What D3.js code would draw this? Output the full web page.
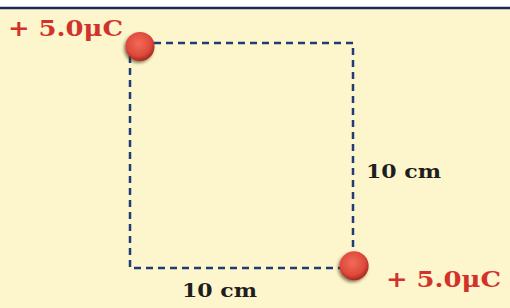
<!DOCTYPE html>
<html>
<head>
<meta charset="utf-8">
<script src="https://cdn.jsdelivr.net/npm/d3@7"></script>
<style>
  html, body { margin: 0; padding: 0; background: #fff; }
  svg { display: block; }
</style>
</head>
<body>
<svg id="chart"></svg>
<script>
const width = 510, height = 308;

// square side in cm and its corners
const sideCm = 10;
const squareCorners = [[0, 10], [10, 10], [10, 0], [0, 0]];

// charges: position in cm and label
const chargePos = [[0.45, 9.85], [10.05, 0.1]];
const chargeLabels = ['+ 5.0μC', '+ 5.0μC'];

// side labels
const sideLabels = ['10 cm', '10 cm'];

const svg = d3.select('#chart')
  .attr('width', width)
  .attr('height', height);

const x = d3.scaleLinear().domain([0, sideCm]).range([130, 353]);
const y = d3.scaleLinear().domain([0, sideCm]).range([268, 43]);

// background
svg.append('rect')
  .attr('width', width).attr('height', height)
  .attr('fill', '#fff');
svg.append('rect')
  .attr('y', 8).attr('width', width).attr('height', height - 8)
  .attr('fill', '#fdf5cb');
svg.append('line')
  .attr('x1', 0).attr('x2', width)
  .attr('y1', 8).attr('y2', 8)
  .attr('stroke', '#1c2a5a').attr('stroke-width', 2.5);

const defs = svg.append('defs');
const grad = defs.append('radialGradient')
  .attr('id', 'ball')
  .attr('cx', '45%').attr('cy', '40%').attr('r', '60%');
grad.append('stop').attr('offset', '0%').attr('stop-color', '#f26a58');
grad.append('stop').attr('offset', '70%').attr('stop-color', '#de4a3c');
grad.append('stop').attr('offset', '100%').attr('stop-color', '#a8281e');

const shadow = defs.append('filter').attr('id', 'shadow')
  .attr('x', '-50%').attr('y', '-50%').attr('width', '200%').attr('height', '200%');
shadow.append('feDropShadow')
  .attr('dx', -1.5).attr('dy', 2).attr('stdDeviation', 1.5)
  .attr('flood-color', '#3a2a10').attr('flood-opacity', 0.6);

// dashed square
svg.append('path')
  .attr('d', d3.line().x(d => x(d[0])).y(d => y(d[1]))(squareCorners) + 'Z')
  .attr('fill', 'none')
  .attr('stroke', '#1d3c78')
  .attr('stroke-width', 2.5)
  .attr('stroke-dasharray', '7,5');

// charges
svg.selectAll('circle.charge')
  .data(chargePos)
  .enter()
  .append('circle')
  .attr('class', 'charge')
  .attr('cx', d => x(d[0]))
  .attr('cy', d => y(d[1]))
  .attr('r', 14.5)
  .attr('fill', 'url(#ball)')
  .attr('filter', 'url(#shadow)');

// charge labels
const chargeText = [
  { x: 8, y: 36 },
  { x: 386, y: 287 }
];
svg.selectAll('text.q')
  .data(chargeLabels)
  .enter()
  .append('text')
  .attr('class', 'q')
  .attr('x', (d, i) => chargeText[i].x)
  .attr('y', (d, i) => chargeText[i].y)
  .attr('textLength', 115)
  .attr('lengthAdjust', 'spacingAndGlyphs')
  .style('font-family', 'DejaVu Serif, serif')
  .style('font-weight', 'bold')
  .style('font-size', '23px')
  .style('fill', '#d2322c')
  .text(d => d);

// side labels
const sideText = [
  { x: 366, y: 178 },
  { x: 182, y: 297 }
];
svg.selectAll('text.side')
  .data(sideLabels)
  .enter()
  .append('text')
  .attr('class', 'side')
  .attr('x', (d, i) => sideText[i].x)
  .attr('y', (d, i) => sideText[i].y)
  .attr('textLength', 75)
  .attr('lengthAdjust', 'spacingAndGlyphs')
  .style('font-family', 'DejaVu Serif, serif')
  .style('font-weight', 'bold')
  .style('font-size', '19px')
  .style('fill', '#1e1e1e')
  .text(d => d);
</script>
</body>
</html>
